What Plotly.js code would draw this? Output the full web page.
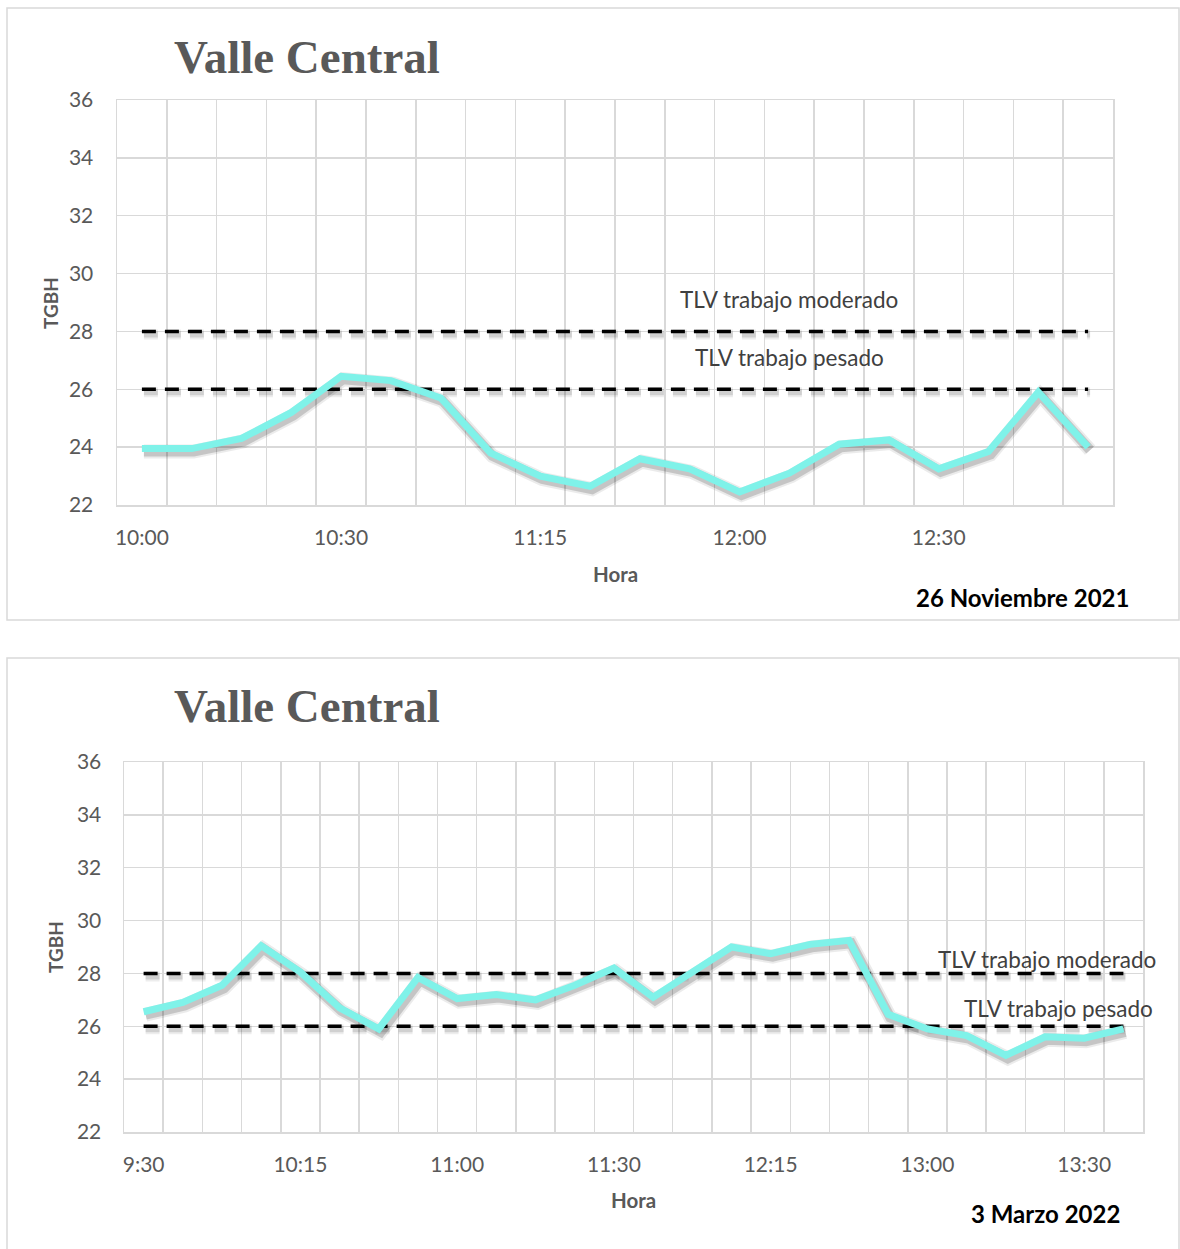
<!DOCTYPE html>
<html>
<head>
<meta charset="utf-8">
<script src="https://cdn.plot.ly/plotly-3.0.1.min.js"></script>
<style>
  html, body { margin: 0; padding: 0; background: #ffffff; }
  #chart { width: 1180px; height: 1249px; }
</style>
</head>
<body>
<div id="chart"></div>
<script>
// ---------------- DATA ----------------
const chartTitle = 'Valle Central';
const yTitle = 'TGBH';
const xTitle = 'Hora';

// Chart 1 : 26 Noviembre 2021
const fecha1 = '26 Noviembre 2021';
const hora1Ticks = ['10:00', '10:30', '11:15', '12:00', '12:30'];
const tgbh1 = [23.95, 23.95, 24.3, 25.2, 26.45, 26.3, 25.7, 23.8, 23.0, 22.65,
               23.6, 23.25, 22.45, 23.1, 24.1, 24.25, 23.25, 23.85, 25.9, 24.0];

// Chart 2 : 3 Marzo 2022
const fecha2 = '3 Marzo 2022';
const hora2Ticks = ['9:30', '10:15', '11:00', '11:30', '12:15', '13:00', '13:30'];
const tgbh2 = [26.55, 26.9, 27.55, 29.05, 28.05, 26.7, 25.9, 27.85, 27.05, 27.2,
               27.0, 27.55, 28.2, 27.1, 28.05, 29.0, 28.75, 29.1, 29.25, 26.45,
               25.9, 25.65, 24.9, 25.6, 25.55, 25.9];

// Threshold limit values
const tlvModerado = 28;
const tlvPesado = 26;
const tlvModeradoLabel = 'TLV trabajo moderado';
const tlvPesadoLabel = 'TLV trabajo pesado';

const yMin = 22, yMax = 36, yStep = 2;
const tickEvery = 4;

// ---------------- LAYOUT HELPERS ----------------
const W = 1180, H = 1249;
const px = x => x / W;
const py = y => 1 - y / H;

const FONT = 'Lato, "Open Sans", sans-serif';
const GRID = '#d9d9d9';
const TXT = '#595959';
const CYAN = '#7ff2e9';

const traces = [];
const layout = {
  width: W, height: H,
  margin: {l: 0, r: 0, t: 0, b: 0},
  paper_bgcolor: '#ffffff',
  plot_bgcolor: 'rgba(0,0,0,0)',
  showlegend: false,
  font: {family: FONT, color: TXT},
  annotations: [],
  shapes: []
};

function addChart(cfg) {
  const n = cfg.values.length;
  const idx = cfg.values.map((_, i) => i);
  const xr = [-0.5, n - 0.5];
  const xd = [px(cfg.left), px(cfg.right)];
  const yd = [py(cfg.bottom), py(cfg.top)];
  const unitX = (cfg.right - cfg.left) / n;            // px per category
  const unitY = (cfg.bottom - cfg.top) / (yMax - yMin); // px per unit
  const sx = 2 / unitX, sy = 3 / unitY;                 // shadow offset (2px right, 3px down)

  const b = cfg.axBase, s = cfg.axShadow, m = cfg.axMain;
  const xb = 'x' + (b === 1 ? '' : b), yb = 'y' + (b === 1 ? '' : b);
  layout['xaxis' + (b === 1 ? '' : b)] = {
    domain: xd, range: xr, anchor: yb,
    tickvals: cfg.ticks.map((_, i) => i * tickEvery), ticktext: cfg.ticks,
    showgrid: false, zeroline: false, ticks: '',
    showline: true, mirror: true, linecolor: GRID, linewidth: 1.5,
    minor: {tick0: -0.5, dtick: 1, showgrid: true, gridcolor: GRID, gridwidth: 1.5, ticks: ''},
    tickfont: {family: FONT, size: 21, color: TXT},
    ticklabelstandoff: 13,
    fixedrange: true
  };
  layout['yaxis' + (b === 1 ? '' : b)] = {
    domain: yd, range: [yMin, yMax], anchor: xb,
    dtick: yStep, tick0: yMin,
    showgrid: true, gridcolor: GRID, gridwidth: 1.5, zeroline: false, ticks: '',
    showline: true, mirror: true, linecolor: GRID, linewidth: 1.5,
    tickfont: {family: FONT, size: 21, color: TXT},
    ticklabelstandoff: cfg.yStandoff,
    fixedrange: true
  };
  layout['xaxis' + s] = {overlaying: xb, anchor: 'y' + s, domain: xd,
    range: [xr[0] - sx, xr[1] - sx], visible: false, fixedrange: true};
  layout['yaxis' + s] = {overlaying: yb, anchor: 'x' + s, domain: yd,
    range: [yMin + sy, yMax + sy], visible: false, fixedrange: true};
  layout['xaxis' + m] = {overlaying: xb, anchor: 'y' + m, domain: xd,
    range: xr, visible: false, fixedrange: true};
  layout['yaxis' + m] = {overlaying: yb, anchor: 'x' + m, domain: yd,
    range: [yMin, yMax], visible: false, fixedrange: true};

  traces.push({x: [], y: [], xaxis: xb, yaxis: yb, type: 'scatter', mode: 'lines', hoverinfo: 'skip'});

  const dash = '14px,9px';
  const mod = idx.map(() => tlvModerado);
  const pes = idx.map(() => tlvPesado);
  // soft shadows
  [[10, 'rgba(0,0,0,0.07)'], [6, 'rgba(0,0,0,0.12)']].forEach(([w, c]) =>
    [mod, pes].forEach(v => traces.push({x: idx, y: v, xaxis: 'x' + s, yaxis: 'y' + s, type: 'scatter',
      mode: 'lines', line: {color: c, width: w, dash: dash}, hoverinfo: 'skip'})));
  [[14, 'rgba(0,0,0,0.08)'], [10, 'rgba(0,0,0,0.16)']].forEach(([w, c]) =>
    traces.push({x: idx, y: cfg.values, xaxis: 'x' + s, yaxis: 'y' + s, type: 'scatter',
      mode: 'lines', line: {color: c, width: w}, hoverinfo: 'skip'}));
  // main
  [mod, pes].forEach(v => traces.push({x: idx, y: v, xaxis: 'x' + m, yaxis: 'y' + m, type: 'scatter',
    mode: 'lines', line: {color: '#000000', width: 3.5, dash: dash}, hoverinfo: 'skip'}));
  traces.push({x: idx, y: cfg.values, xaxis: 'x' + m, yaxis: 'y' + m, type: 'scatter',
    mode: 'lines', line: {color: CYAN, width: 7}, hoverinfo: 'skip'});

  layout.shapes.push({type: 'rect', xref: 'paper', yref: 'paper',
    x0: px(cfg.frame[0]), x1: px(cfg.frame[2]), y0: py(cfg.frame[3]), y1: py(cfg.frame[1]),
    line: {color: GRID, width: 1.5}, fillcolor: 'rgba(0,0,0,0)', layer: 'below'});

  const A = layout.annotations;
  A.push({xref: 'paper', yref: 'paper', x: px(cfg.titleX), y: py(cfg.titleY), xanchor: 'left', yanchor: 'middle',
    text: '<b>' + chartTitle + '</b>', showarrow: false,
    font: {family: '"Liberation Serif", "Times New Roman", serif', size: 47, color: TXT}});
  A.push({xref: 'paper', yref: 'paper', x: px(cfg.yTitlePos[0]), y: py(cfg.yTitlePos[1]), textangle: -90,
    xanchor: 'center', yanchor: 'middle', text: '<b>' + yTitle + '</b>', showarrow: false,
    font: {family: FONT, size: 19, color: TXT}});
  A.push({xref: 'paper', yref: 'paper', x: px(cfg.xTitlePos[0]), y: py(cfg.xTitlePos[1]),
    xanchor: 'center', yanchor: 'middle', text: '<b>' + xTitle + '</b>', showarrow: false,
    font: {family: FONT, size: 20.5, color: TXT}});
  A.push({xref: 'paper', yref: 'paper', x: px(cfg.datePos[0]), y: py(cfg.datePos[1]),
    xanchor: 'right', yanchor: 'middle', text: '<b>' + cfg.date + '</b>', showarrow: false,
    font: {family: FONT, size: 24, color: '#000000'}});
  A.push({xref: xb, yref: yb, x: cfg.modLabel[0], y: tlvModerado, yshift: cfg.modLabel[1],
    xanchor: 'center', yanchor: 'middle', text: tlvModeradoLabel, showarrow: false,
    font: {family: FONT, size: 22.5, color: '#404040'}});
  A.push({xref: xb, yref: yb, x: cfg.pesLabel[0], y: tlvPesado, yshift: cfg.pesLabel[1],
    xanchor: 'center', yanchor: 'middle', text: tlvPesadoLabel, showarrow: false,
    font: {family: FONT, size: 22.5, color: '#404040'}});
}

addChart({
  values: tgbh1, ticks: hora1Ticks, date: fecha1,
  left: 117, right: 1113, top: 100, bottom: 505,
  axBase: 1, axShadow: 2, axMain: 3, yStandoff: 18,
  frame: [7, 8, 1179, 620],
  titleX: 172, titleY: 57,
  yTitlePos: [50, 303], xTitlePos: [615, 574], datePos: [1131, 597],
  modLabel: [13.0, 32], pesLabel: [13.0, 32]
});

addChart({
  values: tgbh2, ticks: hora2Ticks, date: fecha2,
  left: 124, right: 1143, top: 762, bottom: 1132,
  axBase: 4, axShadow: 5, axMain: 6, yStandoff: 17,
  frame: [7, 658, 1179, 1262],
  titleX: 172, titleY: 706,
  yTitlePos: [55, 947], xTitlePos: [633, 1200], datePos: [1122, 1213],
  modLabel: [23.05, 14], pesLabel: [23.35, 18]
});

Plotly.newPlot('chart', traces, layout, {displayModeBar: false, staticPlot: true});
</script>
</body>
</html>
